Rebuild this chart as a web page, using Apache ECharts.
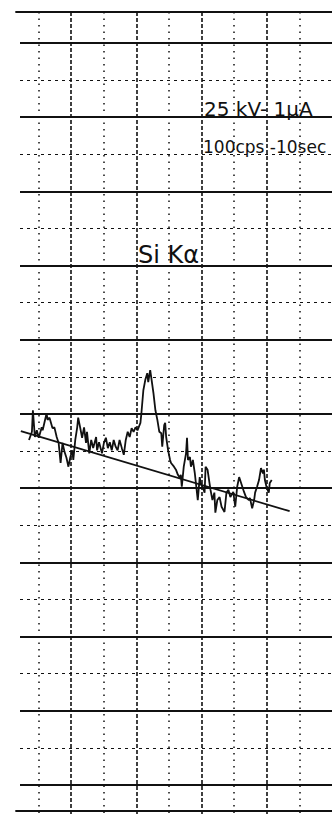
<!DOCTYPE html>
<html>
<head>
<meta charset="utf-8">
<script src="https://cdn.jsdelivr.net/npm/echarts@6/dist/echarts.min.js"></script>
<style>
html,body{margin:0;padding:0;background:#fff;}
#chart{width:332px;height:814px;}
</style>
</head>
<body>
<div id="chart"></div>
<script>
// Recorder position (chart divisions, 10 per vertical grid line) and pen deflection (% of full scale)
const tracePos = [
 7.0,7.9,8.2,8.8,9.4,10.0,10.9,11.2,12.4,12.7,
 13.3,14.2,14.8,15.5,16.1,16.7,17.3,17.9,18.5,19.1,
 19.7,20.3,20.6,21.2,21.8,22.1,22.7,23.3,23.9,24.5,
 24.8,25.5,26.1,26.7,27.6,27.9,28.5,29.4,30.0,30.6,
 31.2,31.8,32.4,33.0,33.6,34.2,34.8,35.5,36.1,36.7,
 37.3,37.9,38.5,39.1,39.7,40.3,41.2,41.5,42.1,42.7,
 43.3,43.6,44.2,44.5,45.2,45.8,46.4,47.0,47.6,47.9,
 48.5,48.8,49.1,49.7,50.3,50.6,51.5,52.1,52.7,53.3,
 53.6,53.9,54.5,55.2,55.5,55.8,56.4,56.7,57.3,57.9,
 58.2,58.8,59.4,59.7,60.3,60.9,61.2,61.8,62.4,62.7,
 63.3,63.9,64.2,64.8,65.5,66.1,67.0,67.6,68.2,68.8,
 69.7,70.3,70.9,71.5,72.1,73.0,73.6,74.5,74.8,75.5,
 76.1,76.4,77.0,77.6,78.2,78.8,79.1,79.4,80.0,80.6,
 80.9,81.5
];
const traceVal = [
 46.5,47.6,50.5,46.9,47.8,46.8,48.2,47.8,50.1,49.2,
 49.5,48.1,48.2,46.9,46.1,43.4,46.1,44.9,44.1,42.9,
 44.2,45.1,43.8,46.5,48.2,49.5,48.2,46.8,48.2,46.1,
 47.6,44.7,46.5,45.4,46.9,45.1,46.2,44.7,46.1,46.8,
 45.4,46.2,45.1,46.5,45.6,45.1,46.5,45.4,44.5,46.5,
 47.6,46.9,48.1,47.6,48.2,47.8,48.8,50.1,53.2,54.6,
 55.5,54.3,55.9,55.0,52.8,50.5,49.2,47.6,47.4,45.6,
 48.5,48.8,46.9,45.1,43.8,43.4,42.9,42.5,41.8,41.4,
 41.8,40.2,42.9,44.7,46.8,43.8,44.2,42.9,43.8,42.0,
 40.8,38.4,41.5,40.7,40.2,39.4,42.9,42.5,40.7,39.8,
 38.4,39.4,36.7,38.4,38.8,37.5,36.8,39.4,39.8,38.8,
 39.5,37.5,40.2,41.5,40.7,39.5,38.8,38.4,38.7,37.3,
 38.4,39.4,40.2,41.1,42.7,42.0,42.5,41.1,40.0,39.4,
 40.7,41.1
];
// Hand-drawn background line
const basePos = [4.5, 87.0];
const baseVal = [47.7, 36.9];
// Handwritten notes
const noteSettings = ['25 kV- 1μA', '100cps -10sec'];
const noteLine = 'Si Kα';

const chart = echarts.init(document.getElementById('chart'), null, {renderer: 'svg'});
const ink = '#111';
chart.setOption({
  animation: false,
  backgroundColor: '#fff',
  grid: [
    {left: 20, width: 316, top: 43, bottom: 29},
    {left: 6, width: 330, top: 12, bottom: 0},
    {left: 16, right: 0, top: 12, bottom: 3}
  ],
  xAxis: [
    {gridIndex: 0, type: 'value', min: 4.24, max: 100, show: false},
    {gridIndex: 1, type: 'value', min: 0, max: 100, interval: 20,
     axisLine: {show: false}, axisTick: {show: false}, axisLabel: {show: false},
     splitLine: {show: true, showMinLine: false, showMaxLine: false,
       lineStyle: {color: ink, width: 1.6, type: [4, 2]}},
     minorTick: {show: false, splitNumber: 2},
     minorSplitLine: {show: true, lineStyle: {color: ink, width: 1.5, type: [1.5, 5]}}},
    {gridIndex: 2, type: 'value', position: 'top', min: 0, max: 1,
     axisLine: {show: true, onZero: false, lineStyle: {color: ink, width: 1.8}},
     axisTick: {show: false}, axisLabel: {show: false}, splitLine: {show: false}},
    {gridIndex: 2, type: 'value', position: 'bottom', min: 0, max: 1,
     axisLine: {show: true, onZero: false, lineStyle: {color: ink, width: 1.8}},
     axisTick: {show: false}, axisLabel: {show: false}, splitLine: {show: false}}
  ],
  yAxis: [
    {gridIndex: 0, type: 'value', min: 0, max: 100, interval: 10,
     axisLine: {show: false}, axisTick: {show: false}, axisLabel: {show: false},
     splitLine: {show: true, lineStyle: {color: ink, width: 1.8}},
     minorTick: {show: false, splitNumber: 2},
     minorSplitLine: {show: true, lineStyle: {color: ink, width: 1, type: [3, 4]}}},
    {gridIndex: 1, type: 'value', min: 0, max: 1, show: false},
    {gridIndex: 2, type: 'value', min: 0, max: 1, show: false}
  ],
  series: [
    {type: 'line', xAxisIndex: 0, yAxisIndex: 0, showSymbol: false, silent: true,
     data: tracePos.map((x, i) => [x, traceVal[i]]),
     lineStyle: {color: ink, width: 1.8}},
    {type: 'line', xAxisIndex: 0, yAxisIndex: 0, showSymbol: false, silent: true,
     data: basePos.map((x, i) => [x, baseVal[i]]),
     lineStyle: {color: ink, width: 1.8}}
  ],
  graphic: [
    {type: 'text', x: 204, y: 99, style: {text: noteSettings[0], font: '20px "DejaVu Sans"', fill: ink}},
    {type: 'text', x: 203, y: 138, style: {text: noteSettings[1], font: '17px "DejaVu Sans"', fill: ink}},
    {type: 'text', x: 138, y: 243, style: {text: noteLine, font: '24px "DejaVu Sans"', fill: ink}}
  ]
});
</script>
</body>
</html>
